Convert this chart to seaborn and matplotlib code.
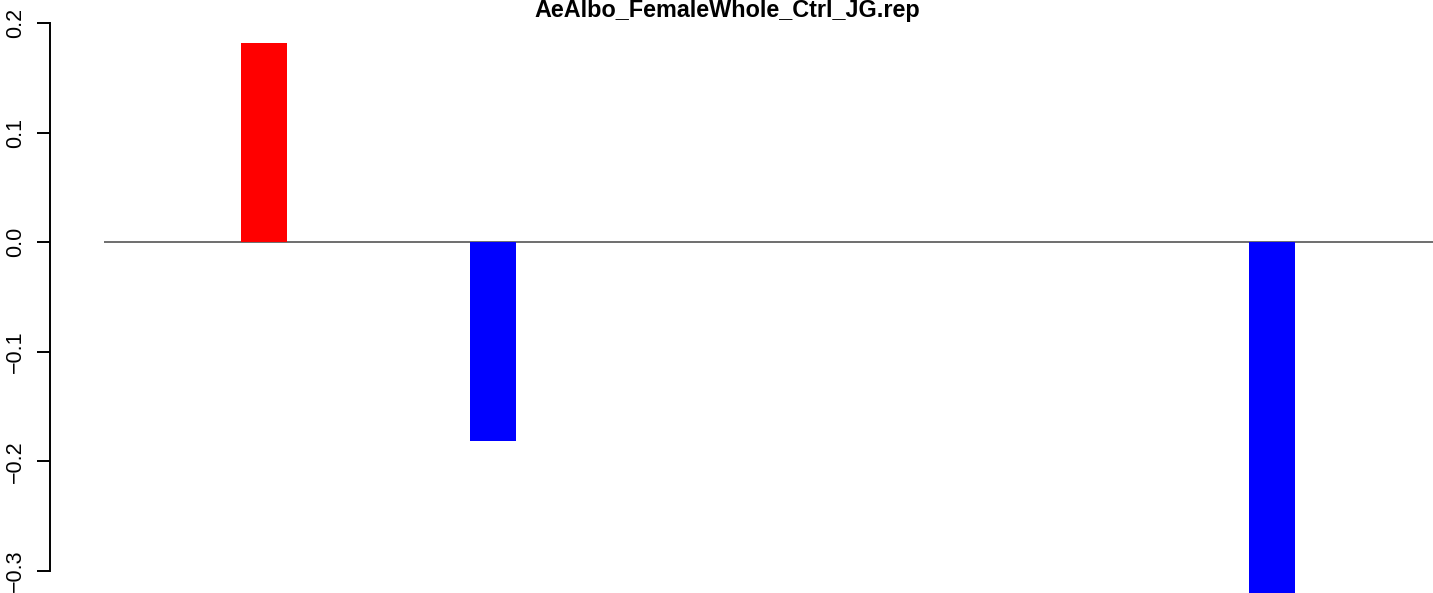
import matplotlib
matplotlib.use("Agg")
import matplotlib.pyplot as plt
import seaborn as sns
import pandas as pd

# bar slots (1-based, R barplot with space=0) and their values
slots = [4, 9, 26]
values = [0.1816, -0.1816, -0.3205]
n_slots = 29
title = "AeAlbo_FemaleWhole_Ctrl_JG.rep"
yticks = [-0.3, -0.2, -0.1, 0.0, 0.1, 0.2]

df = pd.DataFrame({"slot": slots, "value": values})
df["sign"] = ["up" if v > 0 else "down" for v in df["value"]]

sns.set_style("white")
plt.rcParams["font.family"] = ["Liberation Sans", "DejaVu Sans"]

fig = plt.figure(figsize=(14.33, 5.93), dpi=100)
ax = fig.add_axes([50 / 1433, 0, 1383 / 1433, 1])

sns.barplot(data=df, x="slot", y="value", hue="sign", native_scale=True,
            palette={"up": "#ff0000", "down": "#0000ff"}, width=0.2,
            dodge=False, saturation=1, legend=False, ax=ax, linewidth=0)

ax.hlines(0, 0.5, n_slots + 1, color="#555555", linewidth=1.2, zorder=0)

ax.set_xlim(-0.672, 29.52)
ax.set_ylim(-0.3201, 0.221)
ax.set_xlabel("")
ax.set_ylabel("")
ax.set_xticks([])

for s in ["top", "right", "bottom"]:
    ax.spines[s].set_visible(False)
ax.spines["left"].set_bounds(-0.3, 0.2)
ax.spines["left"].set_linewidth(1.4)
ax.spines["left"].set_color("black")
ax.set_yticks(yticks)
ax.set_yticklabels([f"{t:.1f}".replace("-", "\u2212") for t in yticks],
                   rotation=90, va="center", fontsize=15.5, color="black")
ax.tick_params(axis="y", length=9.5, width=1.4, color="black", pad=8, left=True)

fig.text(727 / 1433, 1 - 17 / 593, title, ha="center", va="baseline",
         fontsize=16.8, fontweight="bold", color="black")

fig.savefig("out.png", dpi=100)
